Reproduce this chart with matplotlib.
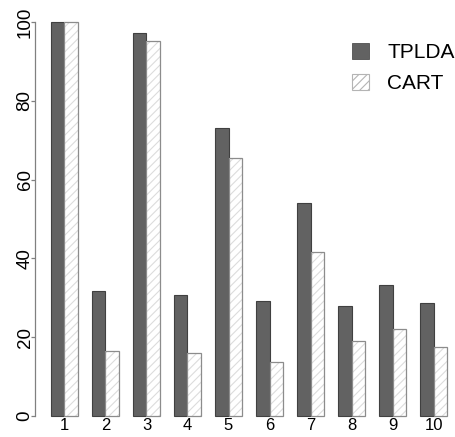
import numpy as np
import matplotlib.pyplot as plt
from matplotlib.patches import Patch

plt.rcParams['font.family'] = ['Liberation Sans', 'DejaVu Sans']
plt.rcParams['hatch.linewidth'] = 0.8

groups = ['1', '2', '3', '4', '5', '6', '7', '8', '9', '10']
tplda = [100, 31.7, 97.1, 30.6, 73.0, 29.1, 54.1, 28.0, 33.2, 28.6]
cart = [100, 16.5, 95.1, 16.0, 65.5, 13.6, 41.7, 19.0, 22.0, 17.5]
yticks = [0, 20, 40, 60, 80, 100]

W, H = 455, 437
fig = plt.figure(figsize=(W / 100, H / 100), dpi=100)
# axes placed in pixel units, like R's plot region
left, right, top, bottom = 35, 455, 6.3, 431.5
ax = fig.add_axes([left / W, (H - bottom) / H, (right - left) / W, (bottom - top) / H])

# R barplot(beside=TRUE) layout: bar width 1, gap 1 between groups
n = len(groups)
x_t = np.arange(n) * 3 + 1.5
x_c = x_t + 1

dark = '#626262'
ax.bar(x_t, tplda, width=1, color=dark, edgecolor='#404040', linewidth=0.8)
ax.bar(x_c, cart, width=1, color='white', edgecolor='#dcdcdc', hatch='////', linewidth=0)
ax.bar(x_c, cart, width=1, fill=False, edgecolor='#8c8c8c', linewidth=0.9)

ax.set_xlim(-0.148, 30.56)
ax.set_ylim(-4, 104)

for s in ['top', 'right', 'bottom']:
    ax.spines[s].set_visible(False)
ax.spines['left'].set_bounds(0, 100)
ax.spines['left'].set_color('#808080')
ax.spines['left'].set_linewidth(0.9)

ax.set_yticks(yticks)
ax.set_yticklabels([str(v) for v in yticks], rotation=90, va='center', fontsize=13.5)
ax.tick_params(axis='y', length=3, width=0.9, color='#808080', pad=-2)
ax.set_xticks([])

for xi, lab in zip(x_t + 0.5, groups):
    ax.text(xi, -2.6, lab, ha='center', va='center', fontsize=12, clip_on=False)

handles = [Patch(facecolor=dark, edgecolor='#505050', linewidth=0.6),
           Patch(facecolor='white', edgecolor='#b4b4b4', hatch='////', linewidth=0.8)]
leg = ax.legend(handles, ['TPLDA', 'CART'], loc='upper left',
                bbox_to_anchor=(352 / W, 1 - 43 / H), bbox_transform=fig.transFigure,
                frameon=False, fontsize=15, handlelength=0.8, handleheight=0.8,
                handletextpad=0.9, labelspacing=0.55, borderpad=0, borderaxespad=0)

fig.savefig('out.png', dpi=100)
